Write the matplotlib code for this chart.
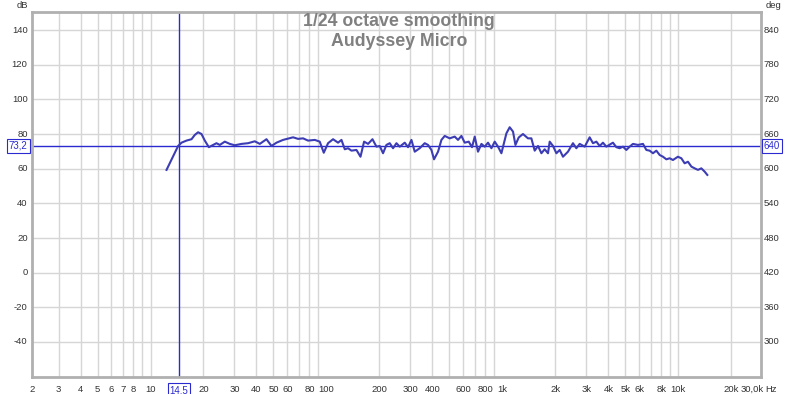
import numpy as np
import matplotlib
matplotlib.use("Agg")
import matplotlib.pyplot as plt

# SPL trace (Hz, dB)
freq = [12.33, 14.35, 15.0, 16.01, 17.10, 17.86, 18.64, 19.49, 20.35, 21.45,
        22.51, 23.71, 24.76, 26.44, 28.22, 30.13, 32.89, 35.85, 39.14, 41.79,
        45.62, 48.70, 51.99, 56.67, 64.60, 68.97, 73.62, 78.62, 85.82, 91.59,
        96.54, 102.1, 109.0, 116.4, 121.7, 127.1, 132.7, 138.7, 148.1, 156.1,
        163.6, 172.4, 182.6, 192.4, 200.8, 209.7, 219.2, 228.9, 239.0, 249.9,
        260.9, 278.6, 290.9, 304.1, 317.5, 338.9, 361.8, 377.8, 395.0, 408.7,
        430.7, 450.2, 470.1, 501.9, 535.8, 559.5, 584.8, 610.6, 643.5, 672.0,
        696.1, 726.8, 759.8, 793.4, 828.4, 866.1, 904.3, 944.2, 987.0, 1054,
        1100, 1149, 1186, 1238, 1309, 1398, 1461, 1526, 1594, 1666,
        1739, 1816, 1857, 1939, 2027, 2117, 2210, 2359, 2518, 2633,
        2750, 2936, 3133, 3272, 3421, 3572, 3729, 3898, 4250, 4443,
        4640, 4845, 5064, 5288, 5521, 5896, 6295, 6580, 6870, 7174,
        7499, 7832, 8178, 8551, 8926, 9319, 9948, 10400, 10860, 11340,
        11860, 12380, 12930, 13510, 14110, 14610]
spl = [59.3, 73.1, 75.0, 76.2, 77.0, 79.5, 81.0, 80.0, 76.2, 72.4,
       73.5, 74.7, 73.7, 75.6, 74.3, 73.5, 74.3, 74.7, 75.8, 74.3,
       77.0, 73.1, 75.0, 76.6, 78.1, 77.2, 77.5, 76.2, 76.6, 75.6,
       69.2, 74.7, 77.0, 75.0, 76.6, 71.2, 71.8, 70.4, 70.8, 66.9,
       75.6, 74.3, 77.0, 72.7, 73.1, 68.9, 73.7, 74.7, 71.8, 74.7,
       72.7, 75.0, 72.4, 76.6, 69.8, 71.8, 74.7, 73.7, 70.8, 65.4,
       69.8, 76.6, 78.9, 77.5, 78.5, 76.6, 78.9, 75.0, 75.6, 72.4,
       78.5, 69.8, 74.3, 72.7, 75.0, 71.8, 75.6, 72.7, 68.9, 80.4,
       83.9, 81.4, 73.7, 78.0, 80.0, 77.5, 77.5, 70.4, 73.1, 68.9,
       71.2, 68.9, 75.6, 73.1, 68.9, 70.8, 66.9, 69.8, 74.7, 71.8,
       74.3, 72.7, 78.1, 74.7, 75.6, 73.1, 75.0, 72.7, 75.0, 72.4,
       71.8, 72.7, 70.8, 72.7, 74.3, 73.7, 74.3, 70.8, 70.4, 68.9,
       70.4, 67.9, 66.9, 65.4, 66.0, 65.0, 66.9, 66.0, 63.1, 64.0,
       61.2, 60.2, 59.3, 60.2, 58.3, 56.4]

cursor_hz = 14.5
cursor_db = 73.2

x_ticks = [3, 4, 5, 6, 7, 8, 10, 20, 30, 40, 50, 60, 80, 100, 200, 300, 400,
           600, 800, 1000, 2000, 3000, 4000, 5000, 6000, 8000, 10000, 20000]
x_labels = ["3", "4", "5", "6", "7", "8", "10", "20", "30", "40", "50", "60",
            "80", "100", "200", "300", "400", "600", "800", "1k", "2k", "3k",
            "4k", "5k", "6k", "8k", "10k", "20k"]
x_grid = [3, 4, 5, 6, 7, 8, 9, 10] + [k * m for m in (10, 100, 1000) for k in range(2, 10)] + [10000, 20000]
db_ticks = [-40, -20, 0, 20, 40, 60, 80, 100, 120, 140]
deg_ticks = [300, 360, 420, 480, 540, 600, 660, 720, 780, 840]

blue = "#3c3cb4"
cur_c = "#2a2ad0"
grid_c = "#d6d6d6"
frame_c = "#b0b0b0"
txt_c = "#333333"

fig = plt.figure(figsize=(8, 3.94), dpi=100)
ax = fig.add_axes([32 / 800, 1 - 377 / 394, 729 / 800, 365 / 394])
ax.set_xscale("log")
ax.set_xlim(2.12, 29500)
ax.set_ylim(-60.2, 150.4)

for g in x_grid:
    ax.axvline(g, color=grid_c, lw=1, zorder=0)
for g in db_ticks:
    ax.axhline(g, color=grid_c, lw=1, zorder=0)

ax.plot(freq, spl, color=blue, lw=1.5, zorder=3)

# cursors
ax.axvline(cursor_hz, color=cur_c, lw=1, zorder=2)
ax.axhline(cursor_db, color=cur_c, lw=1, zorder=2)

for s in ax.spines.values():
    s.set_color(frame_c)
    s.set_linewidth(2)

ax.set_xticks([])
ax.set_yticks([])
ax.xaxis.set_minor_locator(matplotlib.ticker.NullLocator())

font = dict(fontsize=6.8, color=txt_c, family="Liberation Sans")
box = dict(boxstyle="square,pad=0.2", fc="white", ec=cur_c, lw=0.8)
xt = ax.get_xaxis_transform()
yt = ax.get_yaxis_transform()

for t, lab in zip(x_ticks, x_labels):
    ax.text(t, -0.022, lab, transform=xt, ha="center", va="top", **font)
ax.text(0.0, -0.022, "2", transform=ax.transAxes, ha="center", va="top", **font)
ax.text(0.9715, -0.022, "30,0k", transform=ax.transAxes, ha="left", va="top", **font)
ax.text(1.006, -0.022, "Hz", transform=ax.transAxes, ha="left", va="top", **font)
ax.text(cursor_hz, -0.022, "14,5", transform=xt, ha="center", va="top",
        fontsize=7, color=cur_c, family="Liberation Sans", bbox=box)

for t in db_ticks:
    ax.text(-0.006, t, str(t), transform=yt, ha="right", va="center", **font)
ax.text(-0.006, cursor_db, "73,2", transform=yt, ha="right", va="center",
        fontsize=7, color=cur_c, family="Liberation Sans", bbox=box)

for t in deg_ticks:
    ax.text(1.004, (t - 420) / 3, str(t), transform=yt, ha="left", va="center", **font)
ax.text(1.004, cursor_db, "640", transform=yt, ha="left", va="center",
        fontsize=7, color=cur_c, family="Liberation Sans", bbox=box)

fig.text(22 / 800, 1 - 5 / 394, "dB", ha="center", va="center", **font)
fig.text(773 / 800, 1 - 5 / 394, "deg", ha="center", va="center", **font)

title = dict(fontsize=12.8, fontweight="bold", color="#808080", family="Liberation Sans",
             ha="center", va="center")
fig.text(399 / 800, 1 - 21 / 394, "1/24 octave smoothing", **title)
fig.text(399 / 800, 1 - 41 / 394, "Audyssey Micro", **title)

fig.savefig("out.png", dpi=100, facecolor="white")
